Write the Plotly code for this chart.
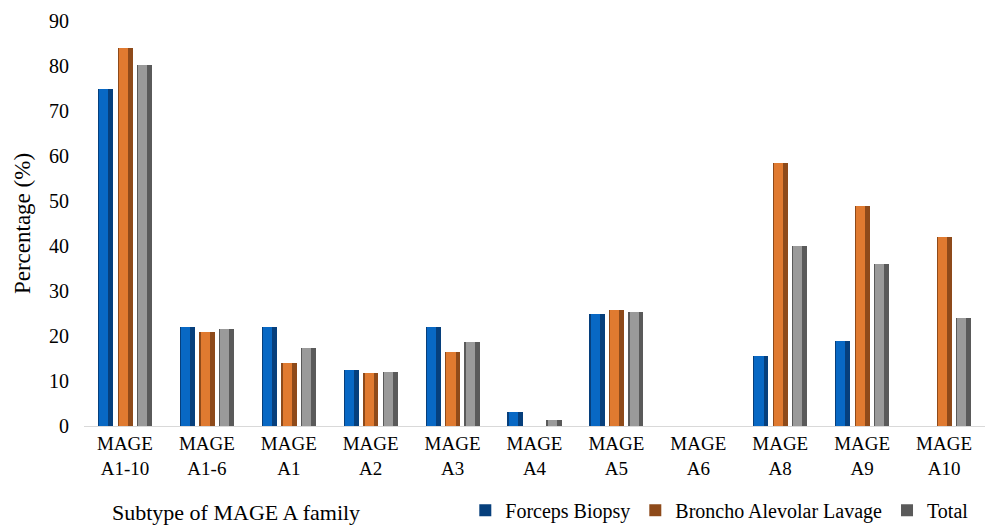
import plotly.graph_objects as go

categories = ["MAGE<br>A1-10", "MAGE<br>A1-6", "MAGE<br>A1", "MAGE<br>A2", "MAGE<br>A3",
              "MAGE<br>A4", "MAGE<br>A5", "MAGE<br>A6", "MAGE<br>A8", "MAGE<br>A9", "MAGE<br>A10"]
forceps_biopsy = [75, 22, 22, 12.5, 22, 3.1, 25, 0, 15.6, 18.8, 0]
bal = [84, 21, 14, 11.8, 16.4, 0, 25.7, 0, 58.4, 49, 42]
total = [80.3, 21.5, 17.4, 12.1, 18.7, 1.3, 25.3, 0, 40.1, 36.1, 24]

series = [
    ("Forceps Biopsy", forceps_biopsy, "#063f7c", "#0868c4", -0.33),
    ("Broncho Alevolar Lavage", bal, "#8e4a1a", "#e07a30", -0.09),
    ("Total", total, "#5a5a5a", "#9a9a9a", 0.145),
]
W = 0.185
font = "Liberation Serif, Times New Roman, serif"

fig = go.Figure()
for name, vals, dark, light, off in series:
    fig.add_trace(go.Bar(
        x=list(range(len(categories))), y=vals, name=name,
        width=W, offset=off,
        marker=dict(color=dark, line=dict(width=0)),
        showlegend=True,
    ))
    fig.add_trace(go.Bar(
        x=list(range(len(categories))), y=vals, name=name,
        width=W * 0.6, offset=off + W * 0.08,
        marker=dict(color=light, line=dict(width=0)),
        showlegend=False, hoverinfo="skip",
    ))

fig.update_layout(
    width=990, height=526,
    margin=dict(l=84, r=5, t=21, b=100),
    barmode="overlay",
    plot_bgcolor="white", paper_bgcolor="white",
    font=dict(family=font, size=19, color="#000000"),
    xaxis=dict(
        tickmode="array", tickvals=list(range(len(categories))), ticktext=categories,
        range=[-0.5, 10.5], showgrid=False, showline=True, linecolor="#d9d9d9",
        linewidth=1, ticks="", tickfont=dict(size=19, family=font), zeroline=False,
    ),
    yaxis=dict(
        range=[0, 90], dtick=10, showgrid=False, showline=False, zeroline=False,
        ticks="", tickfont=dict(size=20, family=font), ticklabelstandoff=14,
        title=dict(text="Percentage (%)", font=dict(size=23, family=font), standoff=11),
    ),
    legend=dict(
        orientation="h", xref="container", yref="container",
        x=0.47, y=0.03, xanchor="left", yanchor="middle",
        font=dict(size=20, family=font), traceorder="normal",
        itemsizing="constant",
    ),
    bargap=0,
)
fig.add_annotation(
    text="Subtype of MAGE A family", xref="paper", yref="paper",
    x=(110 - 84) / (990 - 89), y=-(512 - 426) / 405, xanchor="left", yanchor="middle",
    showarrow=False, font=dict(size=22, family=font),
)
fig.write_html("out.html")
